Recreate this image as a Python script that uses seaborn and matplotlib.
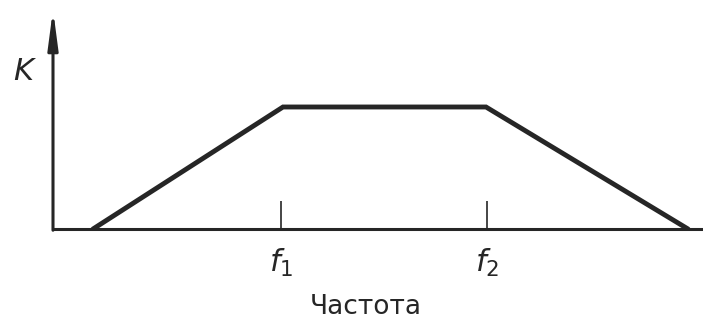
import matplotlib
matplotlib.use("Agg")
import matplotlib.pyplot as plt
import seaborn as sns
import pandas as pd

# --- Datos: respuesta en frecuencia trapezoidal ---
freq = [0.40, 2.30, 4.33, 6.35]
gain = [0.0, 1.0, 1.0, 0.0]
tick_pos = [2.28, 4.34]
tick_labels = ["$f_1$", "$f_2$"]
x_label = "Частота"
y_label = "K"

df = pd.DataFrame({"freq": freq, "gain": gain})

sns.set_theme(style="white")
plt.rcParams["mathtext.fontset"] = "dejavusans"
plt.rcParams["font.family"] = ["DejaVu Sans"]

fig = plt.figure(figsize=(7.03, 3.24), dpi=100)
# origen del eje en (53, 229) px, tope de la flecha en y=15 px
ax = fig.add_axes([53 / 703, (324 - 229) / 324, 650 / 703, 214 / 324])

ink = "#262626"
sns.lineplot(data=df, x="freq", y="gain", ax=ax, color=ink, linewidth=3.5,
             solid_joinstyle="miter", sort=False)

ax.set_xlim(0, 6.5)
ax.set_ylim(0, 1.754)

for side in ["top", "right", "left"]:
    ax.spines[side].set_visible(False)
ax.spines["bottom"].set_color(ink)
ax.spines["bottom"].set_linewidth(2.2)

# eje vertical con flecha
ax.annotate("", xy=(0, 1.80), xytext=(0, -0.01), xycoords="data",
            arrowprops=dict(arrowstyle="-|>,head_length=1.9,head_width=0.25",
                            color=ink, lw=2.2, shrinkA=0, shrinkB=0),
            annotation_clip=False)

ax.set_yticks([])
ax.set_xticks(tick_pos)
ax.set_xticklabels(tick_labels, fontsize=22, color=ink)
ax.tick_params(axis="x", direction="in", length=20, width=1.2, color=ink,
               pad=13, bottom=True)

ax.set_xlabel("")
ax.set_ylabel("")
ax.text(3.13, -0.64, x_label, fontsize=19, color=ink, ha="center", va="center")
ax.text(-0.30, 1.29, y_label, fontsize=22, fontstyle="italic", color=ink,
        ha="center", va="center")

fig.savefig("out.png", dpi=100)
plt.close(fig)
